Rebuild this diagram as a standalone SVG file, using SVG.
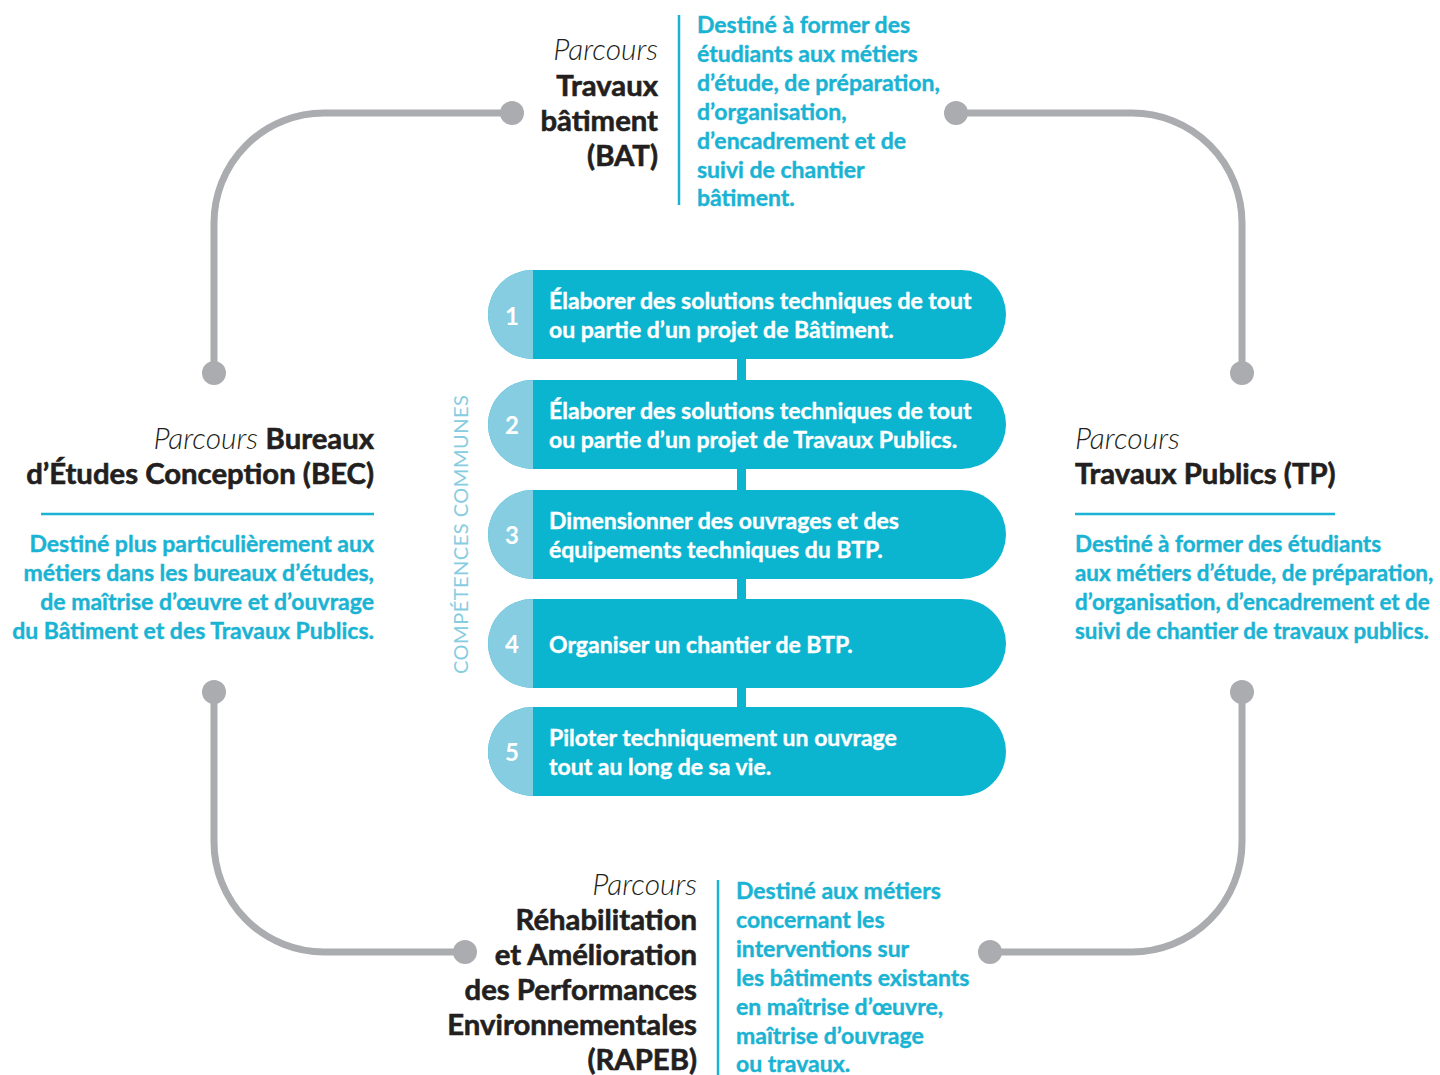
<svg xmlns="http://www.w3.org/2000/svg" width="1440" height="1075" viewBox="0 0 1440 1075">
<style>
.conn{fill:none;stroke:#abacb0;stroke-width:7}
.dot{fill:#abacb0}
.pill{fill:#0bb4cf}
.num{fill:#87cde1}
.bar{fill:#0bb4cf}
.ptxt{font-family:Lato,"Liberation Sans",sans-serif;font-size:23px;font-weight:700;fill:#ffffff;stroke:#ffffff;stroke-width:0.4}
.ntxt{font-family:Lato,"Liberation Sans",sans-serif;font-size:24px;font-weight:700;fill:#ffffff;text-anchor:middle}
.desc{font-family:Lato,"Liberation Sans",sans-serif;font-size:23px;font-weight:700;fill:#1ab3d3;stroke:#1ab3d3;stroke-width:0.4}
.sm{font-size:22.4px}
.it{font-family:Lato,"Liberation Sans",sans-serif;font-size:30px;font-style:italic;font-weight:300;fill:#231f20}
.tt{font-family:Lato,"Liberation Sans",sans-serif;font-size:29.3px;font-weight:700;fill:#231f20;stroke:#231f20;stroke-width:0.6}
.vl{stroke:#1ab3d3;stroke-width:2.5}
.r{text-anchor:end}
.side{font-family:Lato,"Liberation Sans",sans-serif;font-size:20px;fill:#87cde1;letter-spacing:0.5px}
</style>
<g id="connectors">
<path class="conn" d="M512,113 H324 A110,110 0 0 0 214,223 V373"/>
<path class="conn" d="M956,113 H1132 A110,110 0 0 1 1242,223 V373"/>
<path class="conn" d="M214,692 V842 A110,110 0 0 0 324,952 H465"/>
<path class="conn" d="M1242,692 V842 A110,110 0 0 1 1132,952 H990"/>
<circle class="dot" cx="512" cy="113" r="12"/>
<circle class="dot" cx="214" cy="373" r="12"/>
<circle class="dot" cx="956" cy="113" r="12"/>
<circle class="dot" cx="1242" cy="373" r="12"/>
<circle class="dot" cx="214" cy="692" r="12"/>
<circle class="dot" cx="465" cy="952" r="12"/>
<circle class="dot" cx="1242" cy="692" r="12"/>
<circle class="dot" cx="990" cy="952" r="12"/>
<rect class="bar" x="737" y="356" width="9" height="355"/>
</g>
<g id="competences">
<text class="side" transform="translate(468,674) rotate(-90)">COMPÉTENCES COMMUNES</text>
</g>
<g id="c1">
<rect class="pill" x="488" y="270" width="518" height="89" rx="44.5"/>
<path class="num" d="M533,270 V359 H532.5 A44.5,44.5 0 0 1 532.5,270 Z"/>
<text class="ntxt" x="512" y="325">1</text>
<text class="ptxt" x="549" y="309">Élaborer des solutions techniques de tout</text>
<text class="ptxt" x="549" y="338">ou partie d’un projet de Bâtiment.</text>
</g>
<g id="c2">
<rect class="pill" x="488" y="380" width="518" height="89" rx="44.5"/>
<path class="num" d="M533,380 V469 H532.5 A44.5,44.5 0 0 1 532.5,380 Z"/>
<text class="ntxt" x="512" y="434">2</text>
<text class="ptxt" x="549" y="419">Élaborer des solutions techniques de tout</text>
<text class="ptxt" x="549" y="448">ou partie d’un projet de Travaux Publics.</text>
</g>
<g id="c3">
<rect class="pill" x="488" y="490" width="518" height="89" rx="44.5"/>
<path class="num" d="M533,490 V579 H532.5 A44.5,44.5 0 0 1 532.5,490 Z"/>
<text class="ntxt" x="512" y="544">3</text>
<text class="ptxt" x="549" y="529">Dimensionner des ouvrages et des</text>
<text class="ptxt" x="549" y="558">équipements techniques du BTP.</text>
</g>
<g id="c4">
<rect class="pill" x="488" y="599" width="518" height="89" rx="44.5"/>
<path class="num" d="M533,599 V688 H532.5 A44.5,44.5 0 0 1 532.5,599 Z"/>
<text class="ntxt" x="512" y="653">4</text>
<text class="ptxt" x="549" y="653">Organiser un chantier de BTP.</text>
</g>
<g id="c5">
<rect class="pill" x="488" y="707" width="518" height="89" rx="44.5"/>
<path class="num" d="M533,707 V796 H532.5 A44.5,44.5 0 0 1 532.5,707 Z"/>
<text class="ntxt" x="512" y="761">5</text>
<text class="ptxt" x="549" y="746">Piloter techniquement un ouvrage</text>
<text class="ptxt" x="549" y="775">tout au long de sa vie.</text>
</g>
<g id="bat">
<text class="it r" x="658" y="60">Parcours</text>
<text class="tt r" x="658" y="96">Travaux</text>
<text class="tt r" x="658" y="131">bâtiment</text>
<text class="tt r" x="658" y="166">(BAT)</text>
<line class="vl" x1="679" y1="15" x2="679" y2="205"/>
<text class="desc" x="697" y="33">Destiné à former des</text>
<text class="desc" x="697" y="62">étudiants aux métiers</text>
<text class="desc" x="697" y="91">d’étude, de préparation,</text>
<text class="desc" x="697" y="120">d’organisation,</text>
<text class="desc" x="697" y="149">d’encadrement et de</text>
<text class="desc" x="697" y="178">suivi de chantier</text>
<text class="desc" x="697" y="206">bâtiment.</text>
</g>
<g id="bec">
<text class="r" x="374" y="449"><tspan class="it">Parcours </tspan><tspan class="tt">Bureaux</tspan></text>
<text class="tt r" x="374" y="484">d’Études Conception (BEC)</text>
<line class="vl" x1="41" y1="514" x2="374" y2="514"/>
<text class="desc r" x="374" y="552">Destiné plus particulièrement aux</text>
<text class="desc r" x="374" y="581">métiers dans les bureaux d’études,</text>
<text class="desc r" x="374" y="610">de maîtrise d’œuvre et d’ouvrage</text>
<text class="desc r" x="374" y="639">du Bâtiment et des Travaux Publics.</text>
</g>
<g id="tp">
<text class="it" x="1075" y="449">Parcours</text>
<text class="tt" x="1075" y="484">Travaux Publics (TP)</text>
<line class="vl" x1="1075" y1="514" x2="1335" y2="514"/>
<text class="desc sm" x="1075" y="552">Destiné à former des étudiants</text>
<text class="desc sm" x="1075" y="581">aux métiers d’étude, de préparation,</text>
<text class="desc sm" x="1075" y="610">d’organisation, d’encadrement et de</text>
<text class="desc sm" x="1075" y="639">suivi de chantier de travaux publics.</text>
</g>
<g id="rapeb">
<text class="it r" x="697" y="895">Parcours</text>
<text class="tt r" x="697" y="930">Réhabilitation</text>
<text class="tt r" x="697" y="965">et Amélioration</text>
<text class="tt r" x="697" y="1000">des Performances</text>
<text class="tt r" x="697" y="1035">Environnementales</text>
<text class="tt r" x="697" y="1070">(RAPEB)</text>
<line class="vl" x1="718" y1="880" x2="718" y2="1075"/>
<text class="desc" x="736" y="899">Destiné aux métiers</text>
<text class="desc" x="736" y="928">concernant les</text>
<text class="desc" x="736" y="957">interventions sur</text>
<text class="desc" x="736" y="986">les bâtiments existants</text>
<text class="desc" x="736" y="1015">en maîtrise d’œuvre,</text>
<text class="desc" x="736" y="1044">maîtrise d’ouvrage</text>
<text class="desc" x="736" y="1072">ou travaux.</text>
</g>
</svg>
